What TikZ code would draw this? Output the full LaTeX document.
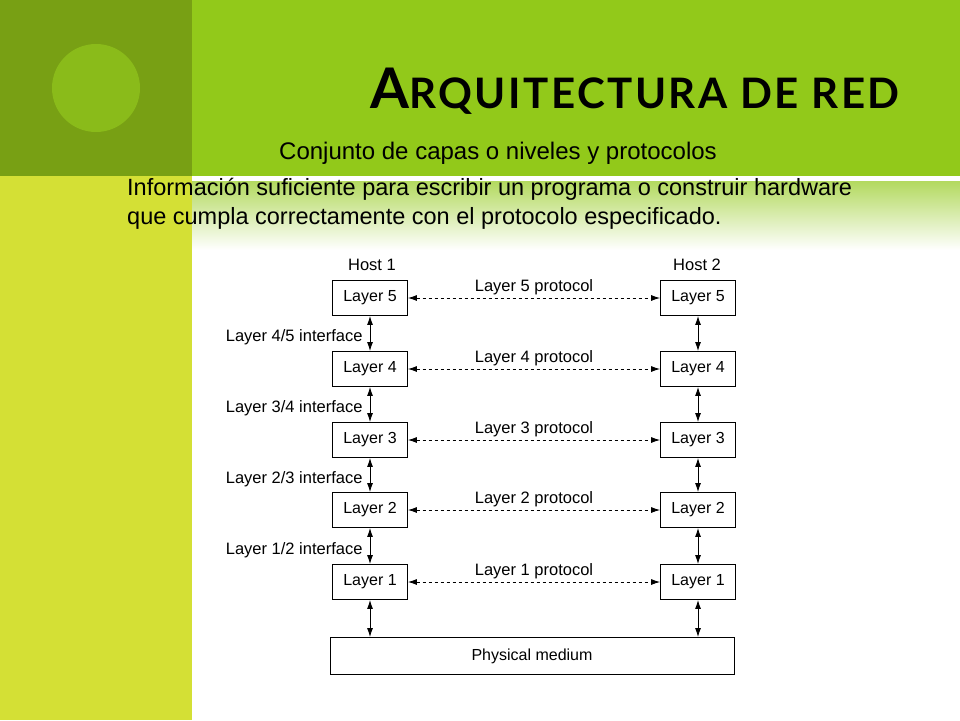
\documentclass[tikz,border=0pt]{standalone}
\usepackage{fontspec}
\setmainfont{Liberation Sans}
\newfontfamily\titlefont[LetterSpace=6]{Lato}
\usetikzlibrary{positioning,arrows.meta}
\definecolor{bandgreen}{HTML}{92C91A}
\definecolor{darkgreen}{HTML}{78A014}
\definecolor{circgreen}{HTML}{8ABB1A}
\definecolor{lime}{HTML}{D4E035}
\tikzset{
  layerbox/.style={draw, line width=0.9pt, minimum width=75pt, minimum height=35pt, font=\fontsize{16}{18}\selectfont, inner sep=0pt},
  lbl/.style={font=\fontsize{16.5}{18}\selectfont, inner sep=1pt},
  proto/.style={dashed, line width=0.8pt, {Latex[length=9pt,width=6pt]}-{Latex[length=9pt,width=6pt]}},
  iface/.style={line width=0.9pt, {Latex[length=9pt,width=6pt]}-{Latex[length=9pt,width=6pt]}}
}
\begin{document}
\begin{tikzpicture}[x=1pt, y=-1pt]
\useasboundingbox (0,0) rectangle (960,720);
% background
\fill[white] (0,0) rectangle (960,720);
\fill[bandgreen] (192,0) rectangle (960,176);
\fill[darkgreen] (0,0) rectangle (192,176);
\fill[lime] (0,176) rectangle (192,720);
\shade[top color=bandgreen!70, bottom color=white] (192,181) rectangle (960,250);
\fill[circgreen] (96,88) circle (44);

% texts
\node[anchor=base east, inner sep=0pt] (title) at (900,108)
  {\titlefont\bfseries\fontsize{56}{60}\selectfont A\fontsize{42}{46}\selectfont RQUITECTURA DE RED};
\node[anchor=base west, inner sep=0pt] (sub) at (279,159) {\fontsize{24}{28}\selectfont Conjunto de capas o niveles y protocolos};
\node[anchor=north west, align=left, inner sep=0pt, font=\fontsize{23.5}{29}\selectfont] (info) at (127,178)
  {Información suficiente para escribir un programa o construir hardware\\
   que cumpla correctamente con el protocolo especificado.};

% layers
\foreach \n/\y in {5/298, 4/369, 3/440, 2/510, 1/582}{
  \node[layerbox] (L\n) at (370,\y) {Layer \n};
  \node[layerbox] (R\n) at (698,\y) {Layer \n};
  \draw[proto] (L\n) -- node[lbl, above=2pt] {Layer \n\ protocol} (R\n);
}
\node[layerbox, minimum width=404pt, minimum height=37pt] (phys) at (532,656) {Physical medium};
\node[lbl] (h1) at (372,265) {Host 1};
\node[lbl] (h2) at (697,265) {Host 2};

% interfaces
\foreach \a/\b/\t in {5/4/4\slash5, 4/3/3\slash4, 3/2/2\slash3, 2/1/1\slash2}{
  \draw[iface] (L\a) -- node[lbl, left=6pt, yshift=-4pt] {Layer \t\ interface} (L\b);
  \draw[iface] (R\a) -- (R\b);
}
\draw[iface] (L1) -- (L1 |- phys.north);
\draw[iface] (R1) -- (R1 |- phys.north);
\end{tikzpicture}
\end{document}
